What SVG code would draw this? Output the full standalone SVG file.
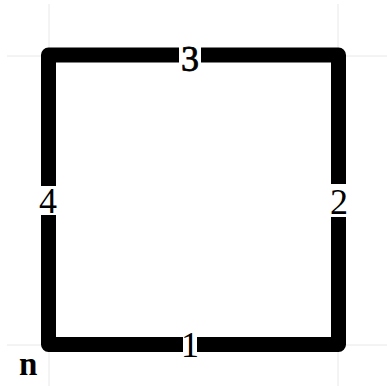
<svg xmlns="http://www.w3.org/2000/svg" width="387" height="386" viewBox="0 0 387 386">
<style>
.grid{stroke:#e8e8e8;stroke-width:1;fill:none}
.edge{stroke:#000;stroke-width:15;fill:none;stroke-linejoin:round;stroke-linecap:round}
.lbl{font-family:"Liberation Serif","DejaVu Serif",serif;font-size:36px;fill:#000;text-anchor:middle}
.bg{fill:#fff}
</style>
<rect width="387" height="386" fill="#fff"/>
<g id="grid">
<line class="grid" x1="49" y1="4" x2="49" y2="386"/>
<line class="grid" x1="338" y1="4" x2="338" y2="386"/>
<line class="grid" x1="7" y1="56" x2="387" y2="56"/>
<line class="grid" x1="7" y1="345" x2="387" y2="345"/>
</g>
<g id="connectors">
<path class="edge" d="M48.5,55 H338.5 V344.5 H48.5 Z"/>
</g>
<g id="label1"><rect class="bg" x="183" y="335" width="14" height="20"/><text class="lbl" x="190" y="357">1</text></g>
<g id="label2"><rect class="bg" x="329" y="184" width="20" height="33"/><text class="lbl" x="339" y="214">2</text></g>
<g id="label3"><rect class="bg" x="179" y="45" width="22" height="20"/><text class="lbl" x="190" y="71" style="stroke:#000;stroke-width:0.8">3</text></g>
<g id="label4"><rect class="bg" x="39" y="186" width="20" height="29"/><text class="lbl" x="48" y="213">4</text></g>
<g id="n"><text x="19" y="375" style="font-family:'Liberation Serif','DejaVu Serif',serif;font-size:33px;font-weight:bold">n</text></g>
</svg>
